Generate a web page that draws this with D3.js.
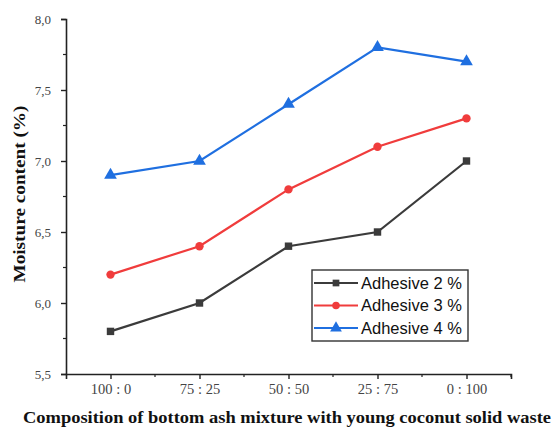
<!DOCTYPE html>
<html><head><meta charset="utf-8">
<script src="https://cdn.jsdelivr.net/npm/d3@7"></script>
<style>body{margin:0;background:#fff}svg{display:block}</style>
</head><body>
<svg id="c" width="553" height="430"></svg>
<script>
const categories = ["100 : 0", "75 : 25", "50 : 50", "25 : 75", "0 : 100"];
const adhesive2 = [5.8, 6.0, 6.4, 6.5, 7.0];
const adhesive3 = [6.2, 6.4, 6.8, 7.1, 7.3];
const adhesive4 = [6.9, 7.0, 7.4, 7.8, 7.7];
const seriesNames = ["Adhesive 2 %", "Adhesive 3 %", "Adhesive 4 %"];
const yTicks = [5.5, 6.0, 6.5, 7.0, 7.5, 8.0];
const yTitle = "Moisture content (%)";
const xTitle = "Composition of bottom ash mixture with young coconut solid waste";

const series = [
  {name: seriesNames[0], values: adhesive2, color: "#3b3b3b", shape: d3.symbolSquare},
  {name: seriesNames[1], values: adhesive3, color: "#f03c3c", shape: d3.symbolCircle},
  {name: seriesNames[2], values: adhesive4, color: "#1f6fe0", shape: d3.symbolTriangle}
];

const svg = d3.select("#c");
const L = 66, R = 511, T = 19, B = 374;
const x = d3.scaleLinear().domain([-0.5, categories.length - 0.5]).range([L, R]);
const y = d3.scaleLinear().domain([5.5, 8.0]).range([B, T]);

const serif = "'Liberation Serif','Times New Roman',serif";

// Y axis
const yAxis = svg.append("g").attr("transform", `translate(${L},0)`)
  .call(d3.axisLeft(y).tickValues(yTicks).tickSize(5).tickPadding(10).tickFormat(d => d3.format(".1f")(d).replace(".", ",")));
yAxis.select(".domain").attr("stroke", "#222").attr("stroke-width", 1.6);
yAxis.selectAll(".tick line").attr("stroke", "#222").attr("stroke-width", 1.4);
yAxis.selectAll("text").attr("font-family", serif).attr("font-size", 13).attr("fill", "#444");
const yMinor = d3.range(5.75, 8.0, 0.5);
svg.append("g").selectAll("line").data(yMinor).join("line")
  .attr("x1", L - 3).attr("x2", L).attr("y1", d => y(d)).attr("y2", d => y(d))
  .attr("stroke", "#222").attr("stroke-width", 1.2);

// X axis
const xAxis = svg.append("g").attr("transform", `translate(0,${B})`)
  .call(d3.axisBottom(x).tickValues(d3.range(categories.length)).tickSize(5).tickPadding(5).tickFormat(i => categories[i]));
xAxis.select(".domain").attr("stroke", "#222").attr("stroke-width", 1.6);
xAxis.selectAll(".tick line").attr("stroke", "#222").attr("stroke-width", 1.4);
xAxis.selectAll("text").attr("font-family", serif).attr("font-size", 14.5).attr("fill", "#444");
const xMinor = d3.range(-0.5, categories.length, 1).slice(1);
svg.append("g").selectAll("line").data(xMinor).join("line")
  .attr("x1", d => x(d)).attr("x2", d => x(d)).attr("y1", B).attr("y2", B + 3)
  .attr("stroke", "#222").attr("stroke-width", 1.2);

// Lines
const line = d3.line().x((d, i) => x(i)).y(d => y(d));
series.forEach(s => {
  svg.append("path").datum(s.values).attr("d", line)
    .attr("fill", "none").attr("stroke", s.color).attr("stroke-width", 2.2);
  svg.append("g").selectAll("path").data(s.values).join("path")
    .attr("transform", (d, i) => `translate(${x(i)},${y(d)})`)
    .attr("d", d3.symbol().type(s.shape).size(s.shape === d3.symbolTriangle ? 70 : 55))
    .attr("fill", s.color);
});

// Legend
const lg = svg.append("g");
lg.append("rect").attr("x", 312).attr("y", 270).attr("width", 156).attr("height", 71)
  .attr("fill", "#fff").attr("stroke", "#333").attr("stroke-width", 1.4);
series.forEach((s, i) => {
  const yy = 283 + i * 22.5;
  lg.append("line").attr("x1", 314).attr("x2", 358).attr("y1", yy).attr("y2", yy)
    .attr("stroke", s.color).attr("stroke-width", 2.2);
  lg.append("path").attr("transform", `translate(336,${yy})`)
    .attr("d", d3.symbol().type(s.shape).size(s.shape === d3.symbolTriangle ? 60 : 45)).attr("fill", s.color);
  lg.append("text").attr("x", 361).attr("y", yy + 5.5).text(s.name)
    .attr("font-family", "'Liberation Sans',Arial,sans-serif").attr("font-size", 16.5).attr("fill", "#111");
});

// Titles
svg.append("text").attr("x", 287).attr("y", 423).attr("text-anchor", "middle")
  .attr("font-family", serif).attr("font-weight", "bold").attr("font-size", 17.5).attr("fill", "#111")
  .attr("textLength", 528).attr("lengthAdjust", "spacingAndGlyphs")
  .text(xTitle);
svg.append("text").attr("transform", "translate(25,194) rotate(-90)").attr("text-anchor", "middle")
  .attr("font-family", serif).attr("font-weight", "bold").attr("font-size", 17).attr("fill", "#111")
  .attr("textLength", 177).attr("lengthAdjust", "spacingAndGlyphs")
  .text(yTitle);
</script>
</body></html>
